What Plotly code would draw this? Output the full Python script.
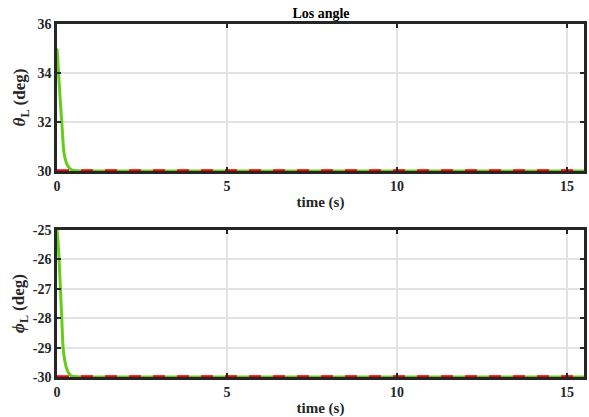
import plotly.graph_objects as go
from plotly.subplots import make_subplots

# LOS elevation angle theta_L (deg) vs time
t_theta = [0, 0.02, 0.05, 0.09, 0.14, 0.20, 0.26, 0.33, 0.43, 0.60, 1.0, 15.5]
theta_L = [35.0, 34.6, 33.9, 33.0, 32.0, 30.8, 30.4, 30.18, 30.05, 30.01, 30.0, 30.0]

# LOS azimuth angle phi_L (deg) vs time
t_phi = [0, 0.03, 0.06, 0.10, 0.14, 0.18, 0.23, 0.28, 0.35, 0.43, 0.60, 1.0, 15.5]
phi_L = [-25.0, -25.4, -25.96, -26.98, -28.0, -29.02, -29.45, -29.7, -29.88, -29.97, -29.99, -30.0, -30.0]

# Desired (reference) angles
t_ref = [0, 15.5]
theta_ref = [30, 30]
phi_ref = [-30, -30]

x_ticks = [0, 5, 10, 15]
theta_ticks = [30, 32, 34, 36]
phi_ticks = [-30, -29, -28, -27, -26, -25]

GREEN = "#66cc1a"
RED = "#ff0000"
FONT = "Liberation Serif"
INK = "#262626"


def bold_labels(vals):
    return ["<b>%s</b>" % v for v in vals]


fig = make_subplots(rows=2, cols=1, vertical_spacing=0.167)

for row, (tt, yy, ry) in enumerate([(t_theta, theta_L, theta_ref), (t_phi, phi_L, phi_ref)], start=1):
    fig.add_trace(go.Scatter(x=tt, y=yy, mode="lines",
                             line=dict(color=GREEN, width=3, shape="spline", smoothing=0.5),
                             showlegend=False), row=row, col=1)
    fig.add_trace(go.Scatter(x=t_ref, y=ry, mode="lines",
                             line=dict(color=RED, width=3.5, dash="12px,12px"),
                             showlegend=False), row=row, col=1)

axis_common = dict(
    showline=True, linecolor=INK, linewidth=2.5, mirror="allticks",
    ticks="inside", ticklen=4, tickwidth=2, tickcolor=INK,
    showgrid=True, gridcolor="#e3e3e3", gridwidth=1.5, zeroline=False,
    tickfont=dict(family=FONT, size=14, color=INK),
)

title_font = dict(family=FONT, size=15, color=INK)
ytitle_font = dict(family=FONT, size=17, color=INK)

for row in (1, 2):
    fig.update_xaxes(range=[0, 15.5], tickvals=x_ticks, ticktext=bold_labels(x_ticks),
                     title=dict(text="<b>time (s)</b>", font=title_font, standoff=4),
                     row=row, col=1, **axis_common)

fig.update_yaxes(range=[30, 36], tickvals=theta_ticks, ticktext=bold_labels(theta_ticks),
                 title=dict(text="<b><i>θ</i><sub>L</sub> (deg)</b>", font=ytitle_font, standoff=8),
                 row=1, col=1, **axis_common)
fig.update_yaxes(range=[-30, -25], tickvals=phi_ticks, ticktext=bold_labels(phi_ticks),
                 title=dict(text="<b><i>ϕ</i><sub>L</sub> (deg)</b>", font=ytitle_font, standoff=4),
                 row=2, col=1, **axis_common)

fig.update_layout(
    width=589, height=417,
    margin=dict(l=57, r=2, t=24, b=40),
    paper_bgcolor="white", plot_bgcolor="white",
    title=dict(text="<b>Los angle</b>", x=0.545, xanchor="center", y=0.968, yanchor="middle",
               font=dict(family=FONT, size=14, color="black")),
)

fig.write_html("out.html")
